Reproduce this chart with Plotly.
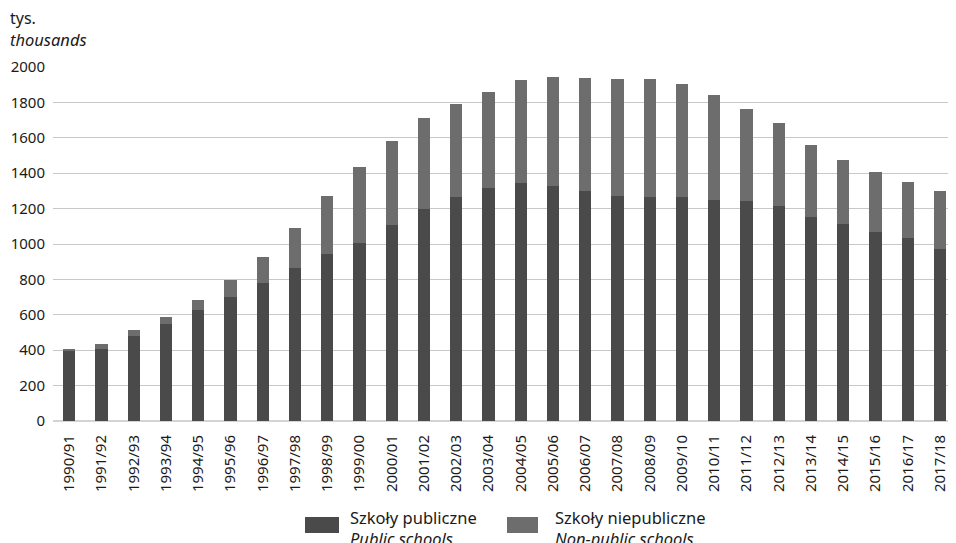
import plotly.graph_objects as go

years = ["1990/91", "1991/92", "1992/93", "1993/94", "1994/95", "1995/96", "1996/97",
         "1997/98", "1998/99", "1999/00", "2000/01", "2001/02", "2002/03", "2003/04",
         "2004/05", "2005/06", "2006/07", "2007/08", "2008/09", "2009/10", "2010/11",
         "2011/12", "2012/13", "2013/14", "2014/15", "2015/16", "2016/17", "2017/18"]
public = [396, 407, 479, 547, 628, 703, 779, 865, 943, 1007, 1108, 1197, 1267, 1314,
          1342, 1325, 1299, 1272, 1265, 1265, 1248, 1244, 1214, 1154, 1111, 1069, 1033, 971]
total = [409, 437, 515, 586, 683, 796, 924, 1090, 1272, 1433, 1580, 1713, 1793, 1859,
         1927, 1944, 1938, 1934, 1931, 1904, 1842, 1764, 1682, 1557, 1472, 1406, 1352, 1297]
nonpublic = [t - p for t, p in zip(total, public)]
y_ticks = [0, 200, 400, 600, 800, 1000, 1200, 1400, 1600, 1800, 2000]

name_pub = "Szkoły publiczne"
name_pub_en = "Public schools"
name_np = "Szkoły niepubliczne"
name_np_en = "Non-public schools"

C_PUB = "#4a4a4a"
C_NP = "#6d6d6d"
FONT = "Noto Sans"

W, H = 948, 535
ML, MR, MT, MB = 45, 0, 59, 122
PW, PH = W - ML - MR, H - MT - MB

def px(x):  # figure pixel x -> paper
    return (x - ML) / PW

def py(y):  # figure pixel y -> paper
    return (H - MB - y) / PH

fig = go.Figure()
fig.add_trace(go.Bar(x=years, y=public, name=name_pub, marker_color=C_PUB,
                     marker_line_width=0, showlegend=False))
fig.add_trace(go.Bar(x=years, y=nonpublic, name=name_np, marker_color=C_NP,
                     marker_line_width=0, showlegend=False))

fig.update_layout(
    barmode="stack",
    bargap=0.62,
    width=W, height=H,
    margin=dict(l=ML, r=MR, t=MT, b=MB),
    plot_bgcolor="white", paper_bgcolor="white",
    font=dict(family=FONT, color="#1a1a1a", size=15),
    xaxis=dict(tickangle=-90, tickfont=dict(size=15), showgrid=False,
               showline=False, ticks="", range=[-0.5, 27.5], ticklabelstandoff=10),
    yaxis=dict(range=[0, 2000], tickvals=y_ticks, gridcolor="#c8c8c8", gridwidth=1,
               zeroline=True, zerolinecolor="#d4d4d4", zerolinewidth=2,
               showline=False, ticks="", tickfont=dict(size=15), ticklabelstandoff=7),
)

# axis unit labels
fig.add_annotation(x=px(1), xref="paper", xanchor="left", y=py(10), yref="paper",
                   yanchor="middle", text="tys.", showarrow=False, font=dict(size=16),
                   borderpad=0)
fig.add_annotation(x=px(1), xref="paper", xanchor="left", y=py(31), yref="paper",
                   yanchor="middle", text="<i>thousands</i>", showarrow=False,
                   font=dict(size=16.5), borderpad=0)

# legend drawn manually (swatches + two-line labels)
def legend_item(x0, x1, color, t1, t2, tx):
    fig.add_shape(type="rect", xref="paper", yref="paper",
                  x0=px(x0), x1=px(x1), y0=py(525), y1=py(509),
                  fillcolor=color, line_width=0)
    fig.add_annotation(x=px(tx), xref="paper", xanchor="left",
                       y=py(520), yref="paper", yanchor="middle",
                       text=t1 + "<br><i>" + t2 + "</i>", showarrow=False, align="left",
                       font=dict(size=16.5))

legend_item(297, 331, C_PUB, name_pub, name_pub_en, 340)
legend_item(499, 530, C_NP, name_np, name_np_en, 545)

fig.write_html("out.html")
